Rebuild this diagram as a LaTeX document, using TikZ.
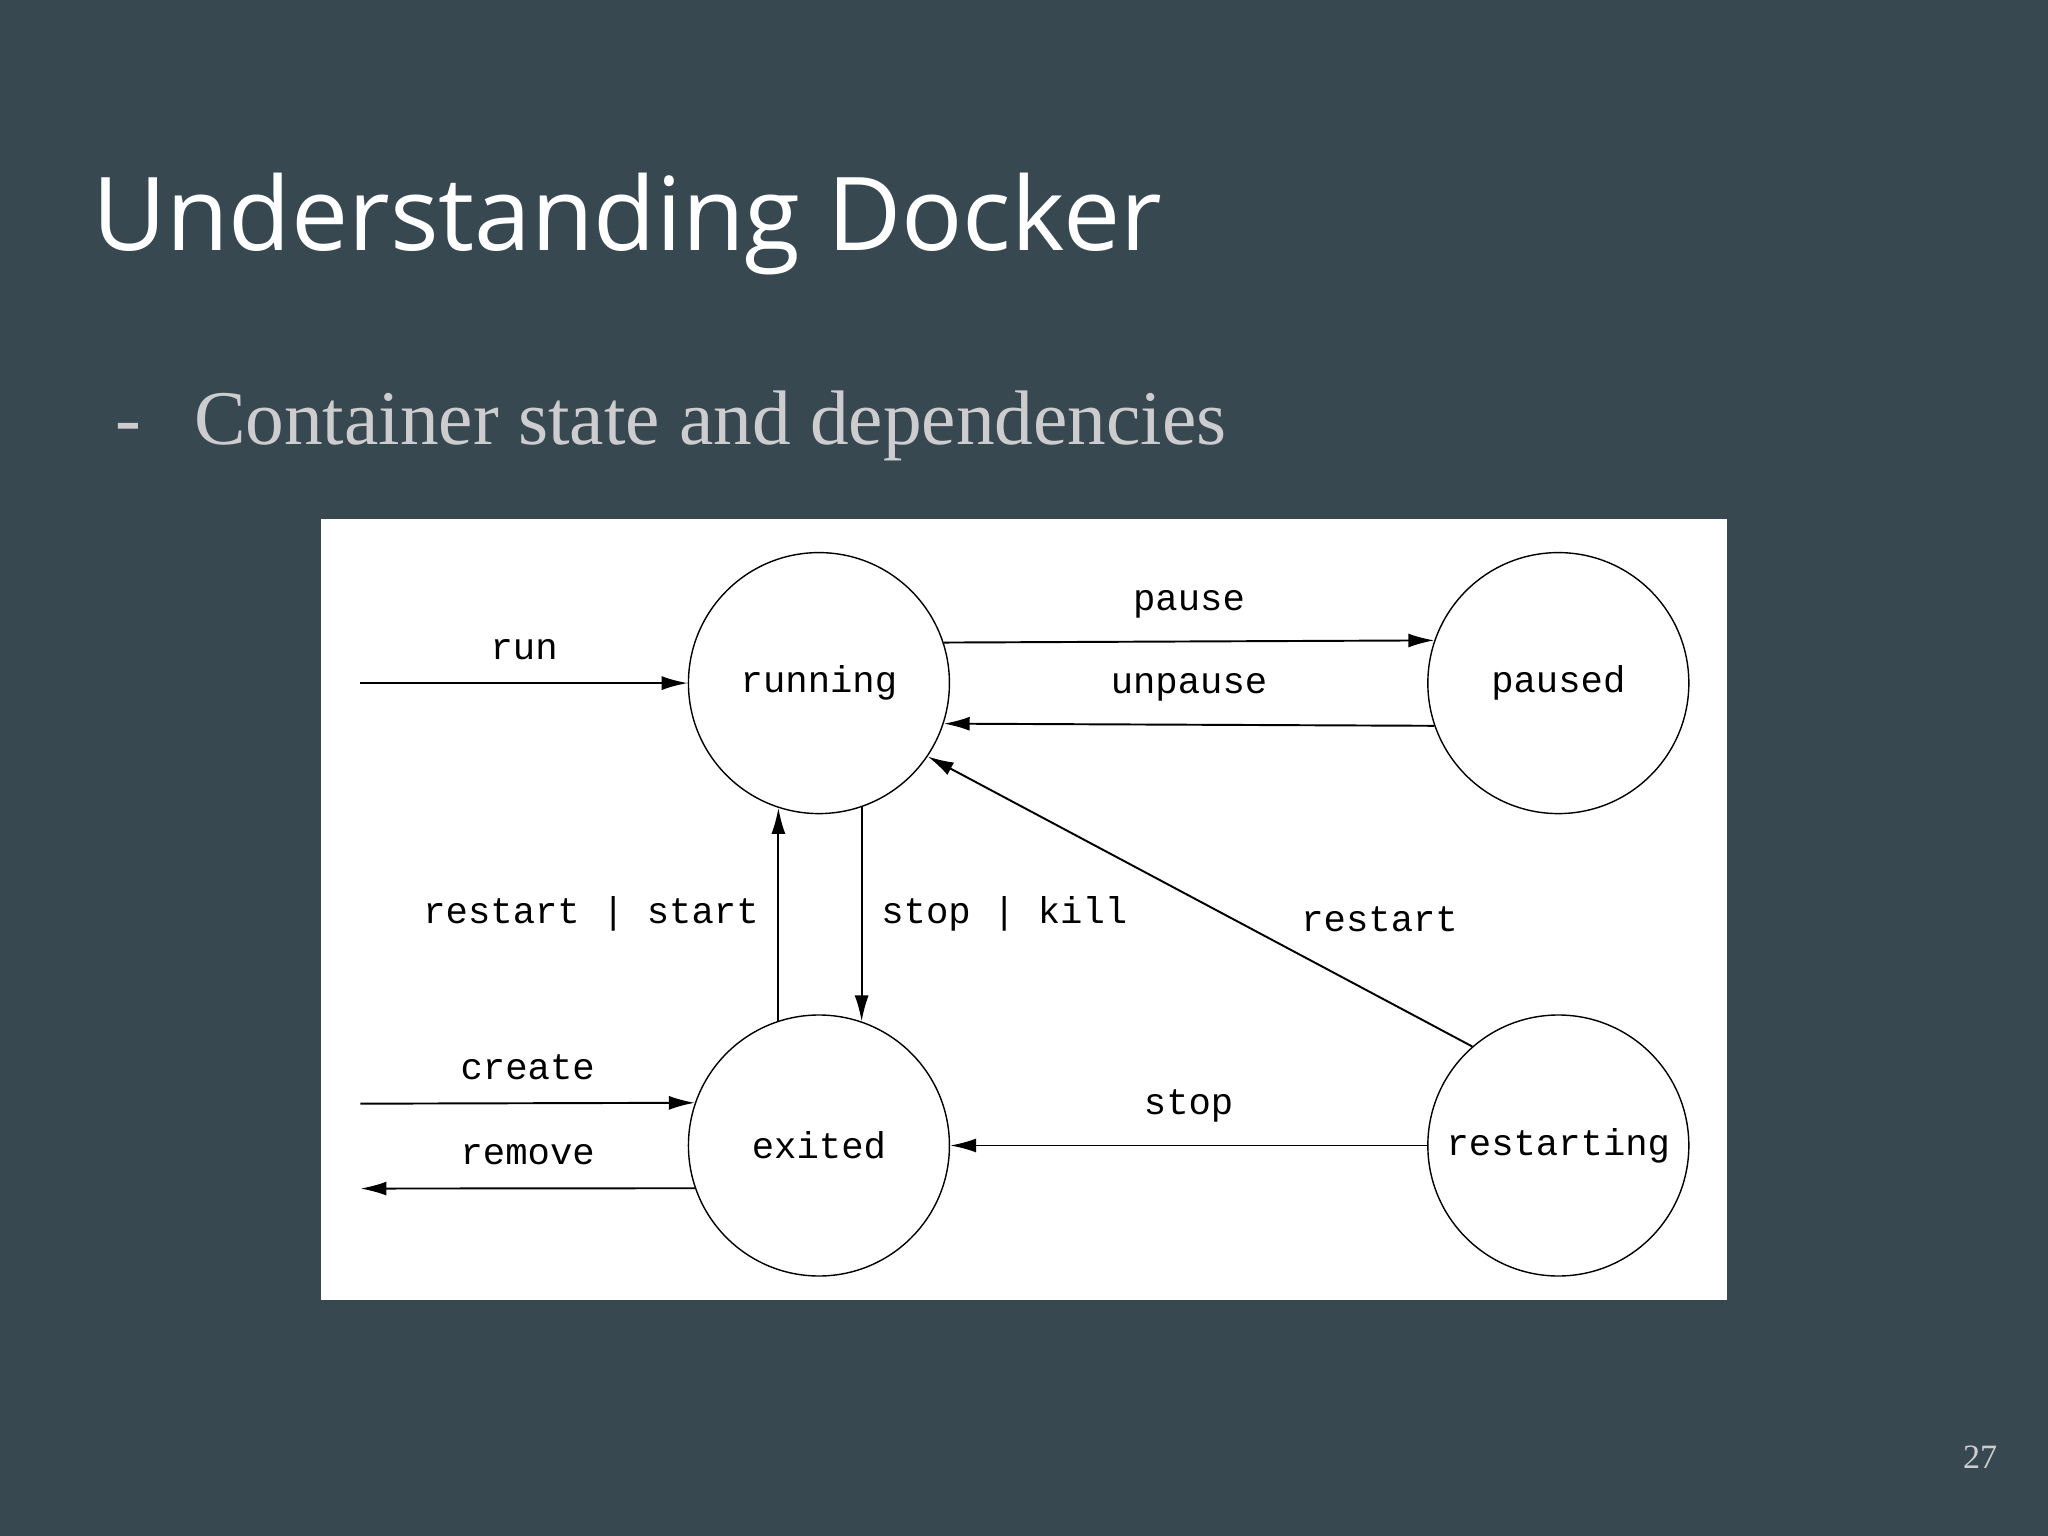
\documentclass[tikz,border=0pt]{standalone}
\usepackage{fontspec}
\setmainfont{Liberation Serif}
\newfontfamily\titlefont{Open Sans}
\newfontfamily\statefont{Liberation Mono}
\usetikzlibrary{positioning}
\usetikzlibrary{arrows.meta}
\definecolor{slide}{RGB}{56,72,81}
\definecolor{subtext}{RGB}{205,205,208}
\tikzset{
  state/.style={draw, circle, fill=white, minimum size=2.61cm, inner sep=0pt, font=\statefont\fontsize{10.6}{12}\selectfont},
  lbl/.style={font=\statefont\fontsize{10.6}{12}\selectfont},
  trans/.style={-{Latex[length=2.6mm,width=1.4mm]}, line width=0.55pt}
}
\begin{document}
\begin{tikzpicture}[x=0.01306cm, y=-0.01306cm, node distance=2cm and 4.77cm]
\fill[slide] (0,0) rectangle (1568,1176);
\useasboundingbox (0,0) rectangle (1568,1176);
\node[anchor=base west, text=white, inner sep=0pt, font=\titlefont\fontsize{29}{34}\selectfont] (title) at (70,192) {Understanding Docker};
\node[anchor=base west, text=subtext, inner sep=0pt, font=\fontsize{22}{26}\selectfont] (dash) at (88,340) {-};
\node[anchor=base west, text=subtext, inner sep=0pt, font=\fontsize{22}{26}\selectfont] (sub) at (148,340) {Container state and dependencies};
\fill[white] (246,397) rectangle (1322,995);
\node[state] (running) at (627,523) {running};
\node[state] (paused) [right=of running] {paused};
\node[state] (exited) [below=of running] {exited};
\node[state] (restarting) [right=of exited] {restarting};
\coordinate (runin) at (276,523);
\coordinate (createin) at (276,845);
\coordinate (removeout) at (276,910);
\draw[trans] (runin) -- (running.west) node[lbl, midway, above=3pt] {run};
\draw[trans] (running.18.7) -- (paused.161.3) node[lbl, midway, above=3pt] {pause};
\draw[trans] (paused.-161.3) -- (running.-18.7) node[lbl, midway, above=3pt] {unpause};
\draw[trans] (exited.108.7) -- (running.-108.7) node[lbl, midway, left=2pt] {restart | start};
\draw[trans] (running.-71.3) -- (exited.71.3) node[lbl, midway, right=2pt] {stop | kill};
\draw[trans] (restarting.131.4) -- (running.-34.8) node[lbl, pos=0.35, above right=0pt and 2pt] {restart};
\draw[trans] (createin) -- (exited.161.3) node[lbl, midway, above=3pt] {create};
\draw[trans] (exited.-161.3) -- (removeout) node[lbl, midway, above=3pt] {remove};
\draw[trans] (restarting.west) -- (exited.east) node[lbl, midway, above=3pt] {stop};
\node[text=subtext, font=\fontsize{9.7}{11}\selectfont] (pageno) at (1516,1116) {27};
\end{tikzpicture}
\end{document}
